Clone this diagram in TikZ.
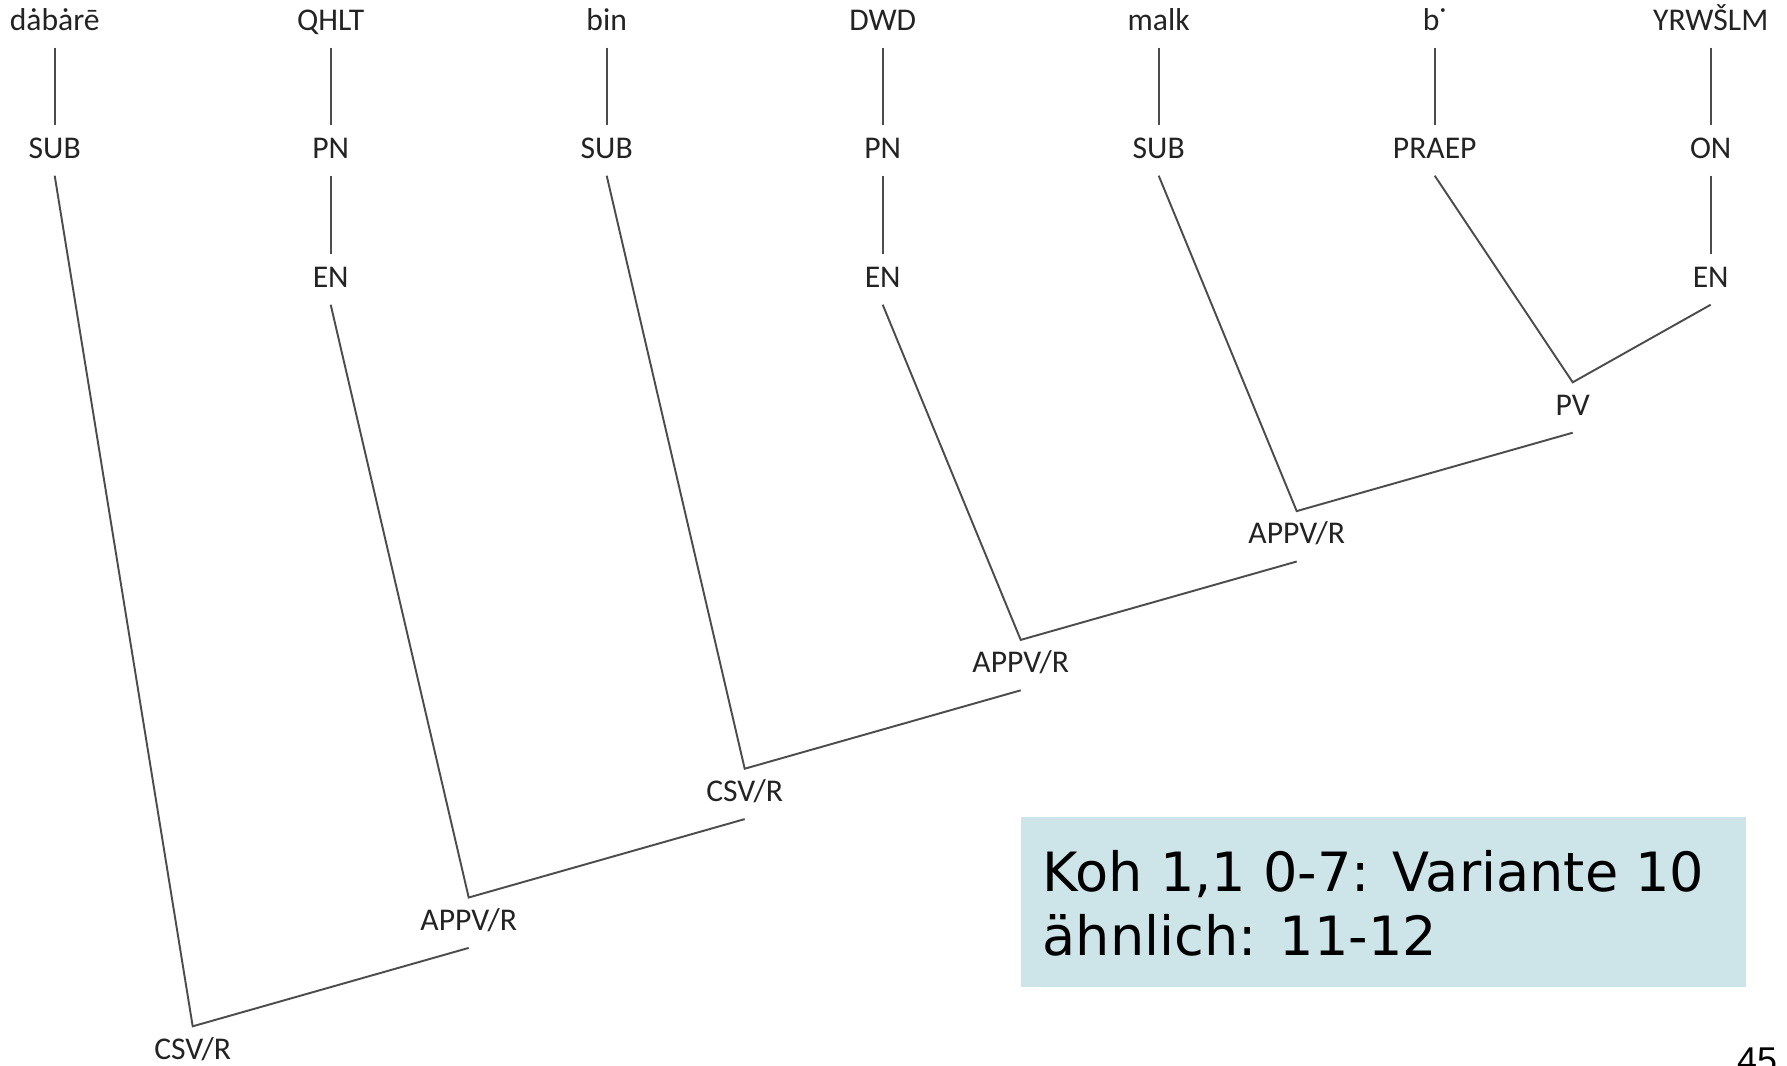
\documentclass[tikz,border=0pt]{standalone}
\usepackage{fontspec}
\setmainfont{Carlito}
\newfontfamily\notefont{DejaVu Sans}
\newfontfamily\pagefont{Liberation Sans}
\definecolor{notebg}{RGB}{205, 229, 233}
\definecolor{ink}{RGB}{35, 35, 35}

\tikzset{
    tag/.style={font=\fontsize{9pt}{11pt}\selectfont, text=ink, anchor=base,
        text height=0.2cm, text depth=0.05cm, inner xsep=2pt, inner ysep=0.12cm},
    link/.style={draw=black!70, line width=0.55pt}
}

\begin{document}
\begin{tikzpicture}
    \useasboundingbox (0, 0) rectangle (17.87, -10.65);

    % words
    \node[tag] (w1) at (0.547, -0.30) {dȧbȧrē};
    \node[tag] (w2) at (3.307, -0.30) {QHLT};
    \node[tag] (w3) at (6.067, -0.30) {bin};
    \node[tag] (w4) at (8.827, -0.30) {DWD};
    \node[tag] (w5) at (11.587, -0.30) {malk};
    \node[tag] (w6) at (14.347, -0.30) {b˙};
    \node[tag] (w7) at (17.107, -0.30) {YRWŠLM};

    % word classes
    \node[tag] (c1) at (0.547, -1.58) {SUB};
    \node[tag] (c2) at (3.307, -1.58) {PN};
    \node[tag] (c3) at (6.067, -1.58) {SUB};
    \node[tag] (c4) at (8.827, -1.58) {PN};
    \node[tag] (c5) at (11.587, -1.58) {SUB};
    \node[tag] (c6) at (14.347, -1.58) {PRAEP};
    \node[tag] (c7) at (17.107, -1.58) {ON};

    \node[tag] (e2) at (3.307, -2.87) {EN};
    \node[tag] (e4) at (8.827, -2.87) {EN};
    \node[tag] (e7) at (17.107, -2.87) {EN};

    \foreach \i in {1,...,7}
        \draw[link] (w\i.south) -- (c\i.north);
    \draw[link] (c2.south) -- (e2.north);
    \draw[link] (c4.south) -- (e4.north);
    \draw[link] (c7.south) -- (e7.north);

    % phrase structure
    \node[tag] (pv) at (15.727, -4.15) {PV};
    \node[tag] (a1) at (12.967, -5.438) {APPV/R};
    \node[tag] (a2) at (10.207, -6.726) {APPV/R};
    \node[tag] (s1) at (7.447, -8.014) {CSV/R};
    \node[tag] (a3) at (4.687, -9.302) {APPV/R};
    \node[tag] (s2) at (1.927, -10.59) {CSV/R};

    \draw[link] (c6.south) -- (pv.north) -- (e7.south);
    \draw[link] (c5.south) -- (a1.north) -- (pv.south);
    \draw[link] (e4.south) -- (a2.north) -- (a1.south);
    \draw[link] (c3.south) -- (s1.north) -- (a2.south);
    \draw[link] (e2.south) -- (a3.north) -- (s1.south);
    \draw[link] (c1.south) -- (s2.north) -- (a3.south);

    % note
    \node[fill=notebg, minimum width=7.25cm, minimum height=1.70cm, inner sep=0pt,
        anchor=north west] (note) at (10.20, -8.16) {};
    % base sits on the last line
    \node[font=\notefont\fontsize{15.4pt}{18.2pt}\selectfont, align=left, inner sep=0pt,
        anchor=base west] (notetext) at (10.42, -9.55) {Koh 1,1 0-7: Variante 10\\ähnlich: 11-12};

    \node[font=\pagefont\fontsize{10.2pt}{12pt}\selectfont, inner sep=0pt, anchor=base] (page) at (17.57, -10.727) {45};
\end{tikzpicture}
\end{document}
